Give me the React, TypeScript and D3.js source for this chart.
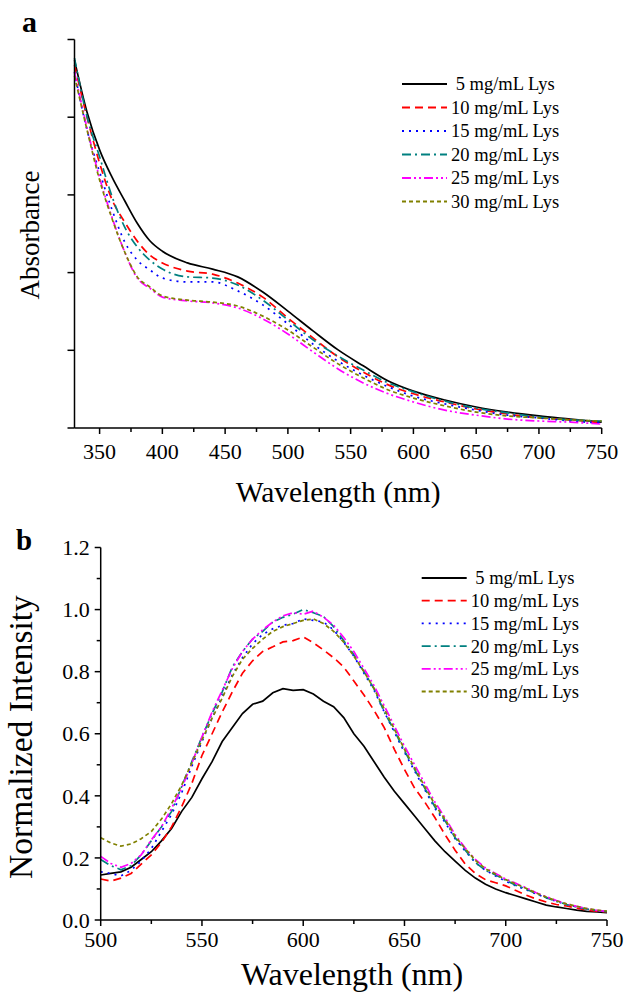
import React from "react";
import * as d3 from "d3";

const W = 626;
const H = 1001;
const FONT = "'Liberation Serif', 'Times New Roman', serif";

// ---------- Series meta ----------
const seriesLabels = ["5 mg/mL Lys", "10 mg/mL Lys", "15 mg/mL Lys", "20 mg/mL Lys", "25 mg/mL Lys", "30 mg/mL Lys"];
const seriesColors = ["#000000", "#ff0000", "#0000ff", "#008080", "#ff00ff", "#808000"];
const seriesDash = ["", "8,5", "2,5", "9,4,2,4", "9,3,2,3,2,3", "4,3"];

// ---------- Panel a: absorbance ----------
const aWavelengths = [330, 340, 350, 360, 370, 380, 390, 400, 420, 440, 460, 480, 500, 520, 540, 560, 580, 600, 625, 650, 675, 700, 725, 750];
const abs5 = [0.947, 0.813, 0.716, 0.645, 0.585, 0.527, 0.482, 0.455, 0.425, 0.409, 0.389, 0.350, 0.301, 0.250, 0.201, 0.160, 0.121, 0.095, 0.072, 0.054, 0.041, 0.031, 0.023, 0.015];
const abs10 = [0.934, 0.800, 0.682, 0.587, 0.530, 0.481, 0.445, 0.425, 0.404, 0.396, 0.373, 0.337, 0.283, 0.232, 0.183, 0.144, 0.111, 0.088, 0.067, 0.049, 0.036, 0.026, 0.021, 0.013];
const abs15 = [0.916, 0.767, 0.659, 0.561, 0.479, 0.432, 0.407, 0.386, 0.376, 0.376, 0.353, 0.317, 0.268, 0.216, 0.172, 0.136, 0.106, 0.082, 0.062, 0.046, 0.033, 0.026, 0.018, 0.013];
const abs20 = [0.952, 0.801, 0.698, 0.595, 0.517, 0.466, 0.432, 0.409, 0.389, 0.386, 0.368, 0.329, 0.278, 0.227, 0.185, 0.149, 0.116, 0.093, 0.069, 0.051, 0.039, 0.028, 0.021, 0.018];
const abs25 = [0.916, 0.772, 0.644, 0.541, 0.453, 0.386, 0.360, 0.337, 0.327, 0.322, 0.309, 0.281, 0.242, 0.196, 0.152, 0.116, 0.088, 0.067, 0.046, 0.033, 0.023, 0.018, 0.015, 0.010];
const abs30 = [0.906, 0.767, 0.638, 0.538, 0.453, 0.389, 0.363, 0.340, 0.329, 0.324, 0.314, 0.288, 0.252, 0.208, 0.165, 0.129, 0.098, 0.077, 0.057, 0.041, 0.031, 0.026, 0.021, 0.018];
const absSeries = [abs5, abs10, abs15, abs20, abs25, abs30];

const aXMajor = [350, 400, 450, 500, 550, 600, 650, 700, 750];
const aXMinor = [375, 425, 475, 525, 575, 625, 675, 725];
const aYMajor = [0, 0.2, 0.4, 0.6, 0.8, 1.0];

// ---------- Panel b: fluorescence ----------
const bWavelengths = [500, 505, 510, 515, 520, 525, 530, 535, 540, 545, 550, 555, 560, 565, 570, 575, 580, 585, 590, 595, 600, 605, 610, 615, 620, 625, 630, 635, 640, 645, 650, 655, 660, 665, 670, 675, 680, 685, 690, 695, 700, 705, 710, 715, 720, 725, 730, 735, 740, 745, 750];
const int5 = [0.145, 0.150, 0.155, 0.170, 0.195, 0.220, 0.255, 0.295, 0.350, 0.395, 0.455, 0.510, 0.575, 0.620, 0.665, 0.695, 0.705, 0.732, 0.745, 0.740, 0.742, 0.728, 0.705, 0.687, 0.652, 0.600, 0.560, 0.510, 0.460, 0.415, 0.375, 0.335, 0.295, 0.255, 0.220, 0.190, 0.160, 0.135, 0.115, 0.100, 0.088, 0.078, 0.068, 0.058, 0.048, 0.042, 0.037, 0.032, 0.028, 0.026, 0.024];
const int10 = [0.132, 0.125, 0.135, 0.150, 0.180, 0.210, 0.250, 0.300, 0.365, 0.440, 0.530, 0.600, 0.670, 0.735, 0.795, 0.835, 0.865, 0.880, 0.896, 0.900, 0.912, 0.893, 0.870, 0.845, 0.815, 0.770, 0.725, 0.675, 0.620, 0.550, 0.485, 0.425, 0.380, 0.330, 0.275, 0.225, 0.180, 0.150, 0.130, 0.120, 0.110, 0.095, 0.080, 0.068, 0.058, 0.050, 0.045, 0.038, 0.032, 0.028, 0.026];
const int15 = [0.155, 0.150, 0.142, 0.160, 0.190, 0.230, 0.285, 0.340, 0.410, 0.495, 0.575, 0.650, 0.720, 0.790, 0.845, 0.890, 0.920, 0.938, 0.950, 0.955, 0.970, 0.965, 0.960, 0.935, 0.895, 0.850, 0.795, 0.740, 0.670, 0.605, 0.540, 0.480, 0.420, 0.360, 0.315, 0.262, 0.222, 0.185, 0.160, 0.142, 0.125, 0.110, 0.098, 0.084, 0.071, 0.060, 0.050, 0.042, 0.035, 0.030, 0.027];
const int20 = [0.195, 0.175, 0.162, 0.175, 0.210, 0.255, 0.300, 0.350, 0.430, 0.510, 0.590, 0.665, 0.735, 0.815, 0.865, 0.905, 0.930, 0.960, 0.975, 0.985, 1.000, 0.990, 0.978, 0.945, 0.900, 0.855, 0.800, 0.745, 0.670, 0.610, 0.545, 0.485, 0.425, 0.365, 0.320, 0.265, 0.225, 0.185, 0.160, 0.145, 0.128, 0.112, 0.100, 0.085, 0.072, 0.060, 0.050, 0.042, 0.035, 0.030, 0.027];
const int25 = [0.205, 0.182, 0.170, 0.182, 0.210, 0.258, 0.300, 0.360, 0.425, 0.505, 0.590, 0.670, 0.740, 0.810, 0.865, 0.905, 0.935, 0.960, 0.980, 0.990, 0.985, 0.995, 0.975, 0.950, 0.910, 0.865, 0.810, 0.755, 0.690, 0.625, 0.560, 0.500, 0.440, 0.380, 0.330, 0.275, 0.232, 0.195, 0.168, 0.150, 0.132, 0.118, 0.104, 0.088, 0.075, 0.063, 0.052, 0.044, 0.037, 0.031, 0.028];
const int30 = [0.265, 0.248, 0.238, 0.245, 0.262, 0.285, 0.325, 0.375, 0.435, 0.505, 0.580, 0.650, 0.715, 0.785, 0.840, 0.875, 0.905, 0.930, 0.945, 0.955, 0.965, 0.970, 0.955, 0.930, 0.895, 0.850, 0.800, 0.745, 0.680, 0.615, 0.550, 0.490, 0.430, 0.372, 0.325, 0.270, 0.230, 0.192, 0.165, 0.148, 0.130, 0.116, 0.102, 0.087, 0.074, 0.062, 0.052, 0.044, 0.037, 0.032, 0.029];
const intSeries = [int5, int10, int15, int20, int25, int30];

const bXMajor = [500, 550, 600, 650, 700, 750];
const bXMinor = [525, 575, 625, 675, 725];
const bYMajor = [0, 0.2, 0.4, 0.6, 0.8, 1.0, 1.2];
const bYMinor = [0.1, 0.3, 0.5, 0.7, 0.9, 1.1];

// ---------- Scales ----------
const xA = d3.scaleLinear().domain([330, 750]).range([74.5, 601.7]);
const yA = d3.scaleLinear().domain([0, 1]).range([428, 39.5]);
const xB = d3.scaleLinear().domain([500, 750]).range([100.7, 607]);
const yB = d3.scaleLinear().domain([0, 1.2]).range([920, 547.5]);

const AX = { stroke: "#000", strokeWidth: 1.5 };

function Legend({ x0, y0, step }: { x0: number; y0: number; step: number }) {
  return (
    <g>
      {seriesLabels.map((lab, i) => (
        <g key={lab}>
          <line x1={x0} x2={x0 + 45} y1={y0 + i * step} y2={y0 + i * step}
            stroke={seriesColors[i]} strokeWidth={1.8} strokeDasharray={seriesDash[i] || undefined} />
          <text x={x0 + 49} y={y0 + i * step} dy="0.35em" fontSize={18.5} fontFamily={FONT}
            style={{ whiteSpace: "pre" }}>{(i === 0 ? " " : "") + lab}</text>
        </g>
      ))}
    </g>
  );
}

export default function App() {
  const lineA = (vals: number[]) =>
    d3.line<number>().x((_, i) => xA(aWavelengths[i])).y((d) => yA(d)).curve(d3.curveMonotoneX)(vals) || "";
  const lineB = (vals: number[]) =>
    d3.line<number>().x((_, i) => xB(bWavelengths[i])).y((d) => yB(d))(vals) || "";

  const axA = xA.range()[0];
  const ayA = yA(0);
  const axB = xB.range()[0];
  const ayB = yB(0);

  return (
    <svg width={W} height={H} style={{ position: "absolute", left: 0, top: 0, background: "#fff" }}>
      <rect x={0} y={0} width={W} height={H} fill="#fff" />
      {/* ===== Panel a ===== */}
      <text x={22} y={32} fontSize={30} fontWeight="bold" fontFamily={FONT}>a</text>
      {absSeries.map((s, i) => (
        <path key={"a" + i} d={lineA(s)} fill="none" stroke={seriesColors[i]} strokeWidth={1.7}
          strokeDasharray={seriesDash[i] || undefined} />
      ))}
      <line x1={axA} x2={axA} y1={yA(1)} y2={ayA} {...AX} />
      <line x1={axA} x2={xA(750)} y1={ayA} y2={ayA} {...AX} />
      {aYMajor.map((v) => (
        <line key={"ay" + v} x1={axA - 7} x2={axA} y1={yA(v)} y2={yA(v)} {...AX} />
      ))}
      {aXMajor.map((v) => (
        <g key={"ax" + v}>
          <line x1={xA(v)} x2={xA(v)} y1={ayA} y2={ayA + 6} {...AX} />
          <text x={xA(v)} y={ayA + 31} textAnchor="middle" fontSize={22} fontFamily={FONT}>{v}</text>
        </g>
      ))}
      {aXMinor.map((v) => (
        <line key={"axm" + v} x1={xA(v)} x2={xA(v)} y1={ayA} y2={ayA + 4} {...AX} />
      ))}
      <text x={(xA(330) + xA(750)) / 2} y={502} textAnchor="middle" fontSize={29.5} fontFamily={FONT}>Wavelength (nm)</text>
      <text transform={`translate(39,235) rotate(-90)`} textAnchor="middle" fontSize={27} fontFamily={FONT}>Absorbance</text>
      <Legend x0={402} y0={84} step={23.5} />

      {/* ===== Panel b ===== */}
      <text x={16} y={550} fontSize={29} fontWeight="bold" fontFamily={FONT}>b</text>
      {intSeries.map((s, i) => (
        <path key={"b" + i} d={lineB(s)} fill="none" stroke={seriesColors[i]} strokeWidth={1.7}
          strokeDasharray={seriesDash[i] || undefined} />
      ))}
      <line x1={axB} x2={axB} y1={yB(1.2)} y2={ayB} {...AX} />
      <line x1={axB} x2={xB(750)} y1={ayB} y2={ayB} {...AX} />
      {bYMajor.map((v) => (
        <g key={"by" + v}>
          <line x1={axB - 6} x2={axB} y1={yB(v)} y2={yB(v)} {...AX} />
          <text x={axB - 11} y={yB(v)} dy="0.35em" textAnchor="end" fontSize={22} fontFamily={FONT}>{v.toFixed(1)}</text>
        </g>
      ))}
      {bYMinor.map((v) => (
        <line key={"bym" + v} x1={axB - 4} x2={axB} y1={yB(v)} y2={yB(v)} {...AX} />
      ))}
      {bXMajor.map((v) => (
        <g key={"bx" + v}>
          <line x1={xB(v)} x2={xB(v)} y1={ayB} y2={ayB + 6} {...AX} />
          <text x={xB(v)} y={ayB + 27} textAnchor="middle" fontSize={22} fontFamily={FONT}>{v}</text>
        </g>
      ))}
      {bXMinor.map((v) => (
        <line key={"bxm" + v} x1={xB(v)} x2={xB(v)} y1={ayB} y2={ayB + 4} {...AX} />
      ))}
      <text x={352} y={985} textAnchor="middle" fontSize={32} fontFamily={FONT}>Wavelength (nm)</text>
      <text transform={`translate(32,737) rotate(-90)`} textAnchor="middle" fontSize={33.5} fontFamily={FONT}>Normalized Intensity</text>
      <Legend x0={421.7} y0={578} step={22.7} />
    </svg>
  );
}
